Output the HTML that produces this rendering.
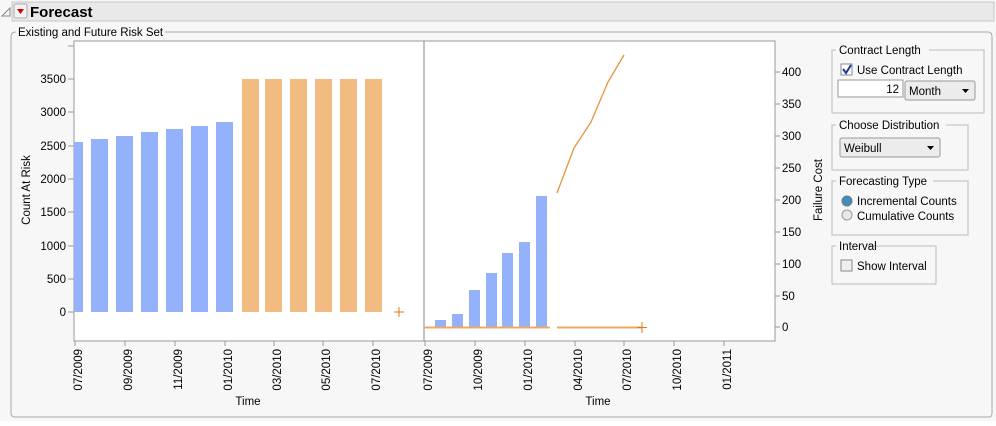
<!DOCTYPE html>
<html><head><style>
body{margin:0;background:#fff;width:996px;height:421px;overflow:hidden;font-family:"Liberation Sans",sans-serif;}
</style></head><body>
<svg width="996" height="421" xmlns="http://www.w3.org/2000/svg" font-family="Liberation Sans, sans-serif" font-size="11.5">
<rect x="0" y="0" width="996" height="421" fill="#f7f7f7"/>
<rect x="12" y="2" width="982" height="19" fill="#e9e9e9" stroke="#c8c8c8"/>
<path d="M2 16 L10 8 L10 16 Z" fill="none" stroke="#888"/>
<rect x="14" y="4" width="13" height="14" rx="2" fill="#f4f4f4" stroke="#aaa"/>
<path d="M17 9 L24 9 L20.5 14 Z" fill="#c00"/>
<text x="30" y="17" font-size="15" font-weight="bold">Forecast</text>
<path d="M16 32 Q11 32 11 37 L11 413 Q11 417 15 417 L989 417 Q992 417 992 413 L992 37 Q992 32 988 32 L165 32" fill="none" stroke="#aaa"/>
<text x="18" y="36">Existing and Future Risk Set</text>
<rect x="74" y="41" width="701" height="300" fill="#fff" stroke="#999"/>
<line x1="424" y1="41" x2="424" y2="341" stroke="#888"/>
<g text-anchor="end" fill="#000">
<text x="66" y="83">3500</text><text x="66" y="116">3000</text><text x="66" y="150">2500</text><text x="66" y="183">2000</text><text x="66" y="216">1500</text><text x="66" y="250">1000</text><text x="66" y="283">500</text><text x="66" y="316">0</text>
</g>
<g stroke="#999">
<line x1="68" y1="46" x2="74" y2="46"/><line x1="68" y1="79" x2="74" y2="79"/><line x1="68" y1="112" x2="74" y2="112"/><line x1="68" y1="146" x2="74" y2="146"/><line x1="68" y1="179" x2="74" y2="179"/><line x1="68" y1="212" x2="74" y2="212"/><line x1="68" y1="246" x2="74" y2="246"/><line x1="68" y1="279" x2="74" y2="279"/><line x1="68" y1="312" x2="74" y2="312"/>
</g>
<text transform="translate(30,190) rotate(-90)" text-anchor="middle">Count At Risk</text>
<g fill="#93b2fb">
<rect x="74" y="142" width="9" height="170"/>
<rect x="91" y="139" width="17" height="173"/>
<rect x="116" y="136" width="17" height="176"/>
<rect x="141" y="132" width="17" height="180"/>
<rect x="166" y="129" width="17" height="183"/>
<rect x="191" y="126" width="17" height="186"/>
<rect x="216" y="122" width="17" height="190"/>
</g>
<g fill="#f1bb82">
<rect x="242" y="79" width="17" height="233"/><rect x="265" y="79" width="17" height="233"/><rect x="290" y="79" width="17" height="233"/><rect x="315" y="79" width="17" height="233"/><rect x="340" y="79" width="17" height="233"/><rect x="365" y="79" width="17" height="233"/>
</g>
<path d="M394 312 H404 M399 307 V317" stroke="#e07a10"/>
<g stroke="#999">
<line x1="75" y1="341" x2="75" y2="346"/><line x1="125" y1="341" x2="125" y2="346"/><line x1="175" y1="341" x2="175" y2="346"/><line x1="225" y1="341" x2="225" y2="346"/><line x1="274" y1="341" x2="274" y2="346"/><line x1="323" y1="341" x2="323" y2="346"/><line x1="373" y1="341" x2="373" y2="346"/>
<line x1="425" y1="341" x2="425" y2="346"/><line x1="475" y1="341" x2="475" y2="346"/><line x1="525" y1="341" x2="525" y2="346"/><line x1="575" y1="341" x2="575" y2="346"/><line x1="624" y1="341" x2="624" y2="346"/><line x1="674" y1="341" x2="674" y2="346"/><line x1="724" y1="341" x2="724" y2="346"/>
</g>
<g text-anchor="end">
<text transform="translate(82,349) rotate(-90)">07/2009</text>
<text transform="translate(132,349) rotate(-90)">09/2009</text>
<text transform="translate(182,349) rotate(-90)">11/2009</text>
<text transform="translate(232,349) rotate(-90)">01/2010</text>
<text transform="translate(281,349) rotate(-90)">03/2010</text>
<text transform="translate(330,349) rotate(-90)">05/2010</text>
<text transform="translate(380,349) rotate(-90)">07/2010</text>
<text transform="translate(432,349) rotate(-90)">07/2009</text>
<text transform="translate(482,349) rotate(-90)">10/2009</text>
<text transform="translate(532,349) rotate(-90)">01/2010</text>
<text transform="translate(582,349) rotate(-90)">04/2010</text>
<text transform="translate(631,349) rotate(-90)">07/2010</text>
<text transform="translate(681,349) rotate(-90)">10/2010</text>
<text transform="translate(731,349) rotate(-90)">01/2011</text>
</g>
<text x="248" y="405" text-anchor="middle">Time</text>
<text x="598" y="405" text-anchor="middle">Time</text>
<g fill="#93b2fb">
<rect x="435" y="320" width="11" height="7"/>
<rect x="452" y="314" width="11" height="13"/>
<rect x="469" y="290" width="11" height="37"/>
<rect x="486" y="273" width="11" height="54"/>
<rect x="502" y="253" width="11" height="74"/>
<rect x="519" y="242" width="11" height="85"/>
<rect x="536" y="196" width="11" height="131"/>
</g>
<line x1="424" y1="327.5" x2="550" y2="327.5" stroke="#f0a860" stroke-width="2"/>
<line x1="557" y1="327.5" x2="642" y2="327.5" stroke="#f0a860" stroke-width="2"/>
<path d="M637 327.5 H647 M642 322 V333" stroke="#e07a10"/>
<polyline points="557,193 574,148 591,122 608,82 624,55" fill="none" stroke="#e8923a" stroke-width="1.3"/>
<g stroke="#999">
<line x1="775" y1="72" x2="780" y2="72"/><line x1="775" y1="104" x2="780" y2="104"/><line x1="775" y1="136" x2="780" y2="136"/><line x1="775" y1="168" x2="780" y2="168"/><line x1="775" y1="200" x2="780" y2="200"/><line x1="775" y1="232" x2="780" y2="232"/><line x1="775" y1="264" x2="780" y2="264"/><line x1="775" y1="296" x2="780" y2="296"/><line x1="775" y1="327" x2="780" y2="327"/>
</g>
<g>
<text x="782" y="76">400</text><text x="782" y="108">350</text><text x="782" y="140">300</text><text x="782" y="172">250</text><text x="782" y="204">200</text><text x="782" y="236">150</text><text x="782" y="268">100</text><text x="782" y="300">50</text><text x="782" y="331">0</text>
</g>
<text transform="translate(822,190) rotate(-90)" text-anchor="middle">Failure Cost</text>
<g fill="none" stroke="#bbb">
<path d="M836 50 H832 V113 H984 V50 H929"/>
<path d="M836 125 H832 V170 H968 V125 H946"/>
<path d="M836 181 H832 V235 H968 V181 H933"/>
<path d="M836 246 H832 V284 H936 V246 H868"/>
</g>
<text x="839" y="54">Contract Length</text>
<rect x="841" y="64" width="11" height="11" fill="#fff" stroke="#888"/>
<path d="M843 69 L846 73 L851 65" fill="none" stroke="#23339a" stroke-width="2"/>
<text x="857" y="74">Use Contract Length</text>
<rect x="838" y="80" width="65" height="17" fill="#fff" stroke="#999"/>
<text x="899" y="93" text-anchor="end">12</text>
<rect x="905" y="81" width="70" height="19" rx="2" fill="#ececec" stroke="#999"/>
<text x="909" y="95">Month</text><path d="M962 89 L969 89 L965.5 93 Z" fill="#000"/>
<text x="839" y="129">Choose Distribution</text>
<rect x="840" y="138" width="100" height="19" rx="2" fill="#ececec" stroke="#999"/>
<text x="844" y="152">Weibull</text><path d="M927 146 L934 146 L930.5 150 Z" fill="#000"/>
<text x="839" y="185">Forecasting Type</text>
<circle cx="847" cy="201" r="5" fill="#3d8fc0" stroke="#777"/>
<text x="857" y="205">Incremental Counts</text>
<circle cx="847" cy="215" r="5" fill="#e8e8e8" stroke="#999"/>
<text x="857" y="220">Cumulative Counts</text>
<text x="839" y="250">Interval</text>
<rect x="841" y="260" width="11" height="11" fill="#f0f0f0" stroke="#888"/>
<text x="857" y="270">Show Interval</text>
</svg>
</body></html>
